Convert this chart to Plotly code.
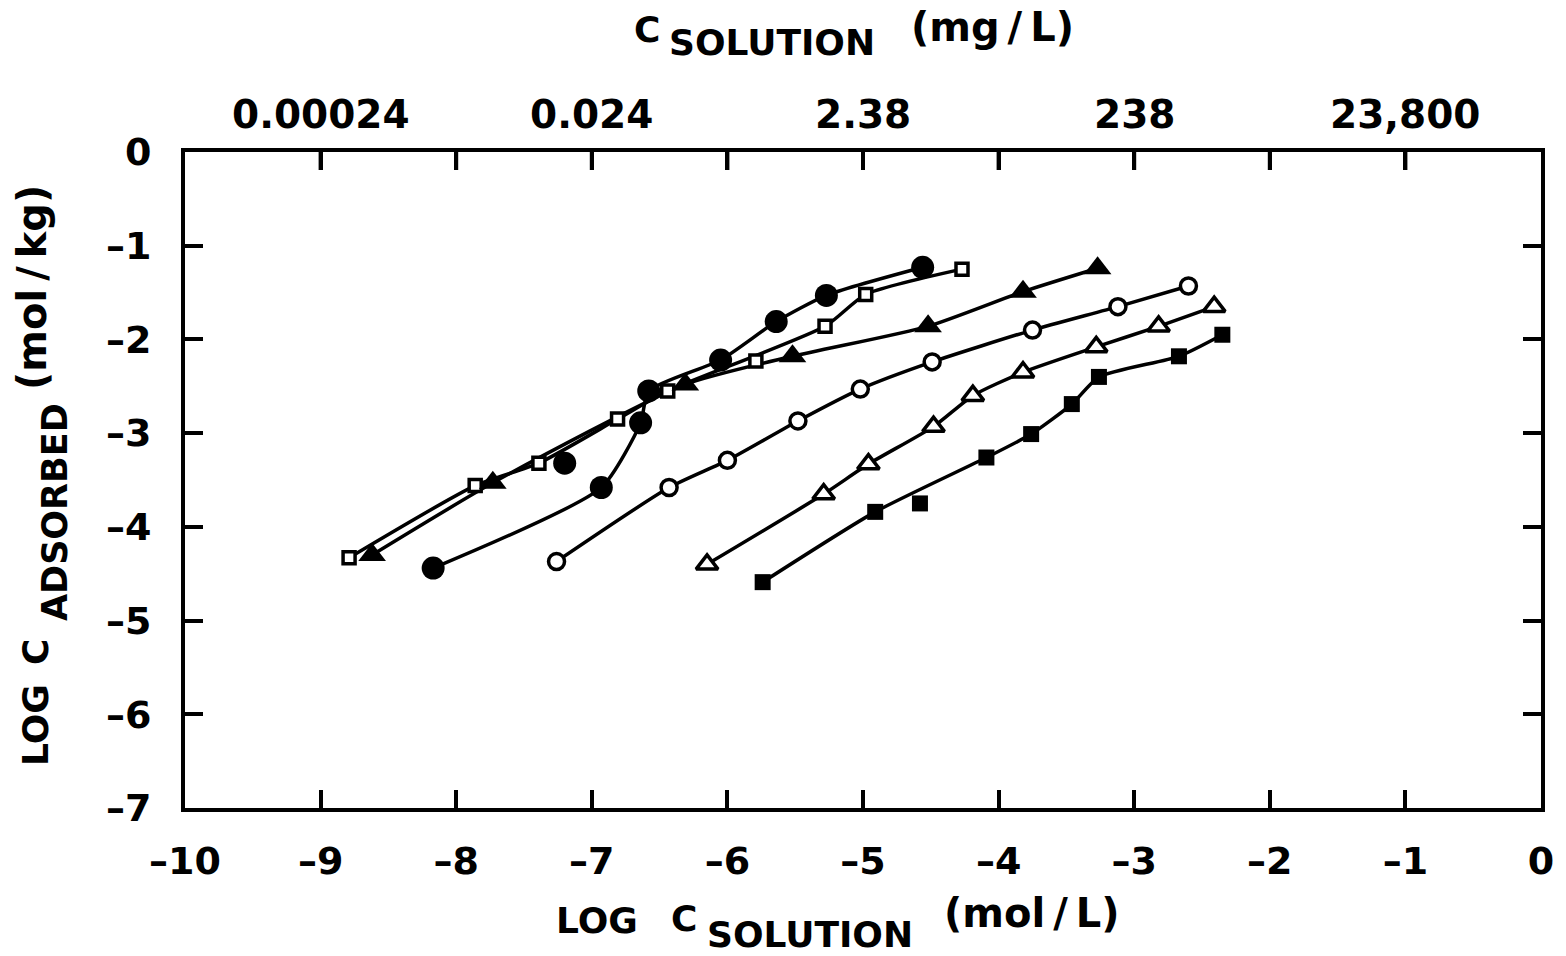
import plotly.graph_objects as go

# ---------------- data ----------------
x_tickvals = [-10, -9, -8, -7, -6, -5, -4, -3, -2, -1, 0]
x_ticktext = ["–10", "–9", "–8", "–7", "–6", "–5", "–4", "–3", "–2", "–1", "0"]
y_tickvals = [0, -1, -2, -3, -4, -5, -6, -7]
y_ticktext = ["0", "–1", "–2", "–3", "–4", "–5", "–6", "–7"]
# top scale: concentration in mg/L at the labelled log(mol/L) positions
top_tickvals = [-9, -7, -5, -3, -1]
top_ticktext = ["0.00024", "0.024", "2.38", "238", "23,800"]

# filled circles
fc_x = [-8.17, -7.20, -6.93, -6.64, -6.58, -6.05, -5.64, -5.27, -4.56]
fc_y = [-4.44, -3.32, -3.58, -2.89, -2.55, -2.22, -1.81, -1.53, -1.23]
fc_on_curve = [1, 0, 1, 1, 1, 1, 1, 1, 1]

# open squares
os_x = [-8.79, -7.86, -7.39, -6.81, -6.44, -5.79, -5.28, -4.98, -4.27]
os_y = [-4.33, -3.56, -3.32, -2.85, -2.55, -2.23, -1.86, -1.52, -1.25]
os_on_curve = [1, 1, 1, 1, 1, 0, 1, 1, 1]

# filled triangles
ft_x = [-8.62, -7.73, -6.31, -5.52, -4.52, -3.82, -3.27]
ft_y = [-4.30, -3.53, -2.48, -2.18, -1.86, -1.49, -1.24]
ft_on_curve = [1, 1, 1, 1, 1, 1, 1]

# open circles
oc_x = [-7.26, -6.43, -6.00, -5.48, -5.02, -4.49, -3.75, -3.12, -2.60]
oc_y = [-4.37, -3.58, -3.29, -2.87, -2.53, -2.24, -1.90, -1.65, -1.43]
oc_on_curve = [1, 1, 1, 1, 1, 1, 1, 1, 1]

# open triangles
ot_x = [-6.15, -5.29, -4.96, -4.48, -4.19, -3.82, -3.28, -2.82, -2.41]
ot_y = [-4.40, -3.65, -3.33, -2.93, -2.60, -2.35, -2.08, -1.86, -1.65]
ot_on_curve = [1, 1, 1, 1, 1, 1, 1, 1, 1]

# filled squares
fs_x = [-5.74, -4.91, -4.58, -4.09, -3.76, -3.46, -3.26, -2.67, -2.35]
fs_y = [-4.59, -3.84, -3.75, -3.26, -3.01, -2.69, -2.40, -2.18, -1.95]
fs_on_curve = [1, 1, 0, 1, 1, 1, 1, 1, 1]

# ---------------- styling ----------------
FONT = "DejaVu Sans"
BLACK = "black"
W, H = 1566, 956
L, R, T, B = 185, 25, 152, 148
PW, PH = W - L - R, H - T - B
X_RANGE = [-10, 0]
Y_RANGE = [-7, 0]
TICKLEN = 18

series = [
    (fc_x, fc_y, fc_on_curve, dict(symbol="circle", size=23, color=BLACK, line=dict(width=0))),
    (os_x, os_y, os_on_curve, dict(symbol="square", size=12, color="white", line=dict(width=3.5, color=BLACK))),
    (ft_x, ft_y, ft_on_curve, dict(symbol="triangle-up", size=24, color=BLACK, line=dict(width=0))),
    (oc_x, oc_y, oc_on_curve, dict(symbol="circle", size=16, color="white", line=dict(width=3.5, color=BLACK))),
    (ot_x, ot_y, ot_on_curve, dict(symbol="triangle-up", size=19, color="white", line=dict(width=3.5, color=BLACK))),
    (fs_x, fs_y, fs_on_curve, dict(symbol="square", size=16, color=BLACK, line=dict(width=0))),
]

fig = go.Figure()

# inward tick marks hanging from the top frame, one per inner x tick value
tick_len_units = TICKLEN * (Y_RANGE[1] - Y_RANGE[0]) / PH
top_tx, top_ty = [], []
for v in x_tickvals[1:-1]:
    top_tx += [v, v, None]
    top_ty += [Y_RANGE[1], Y_RANGE[1] - tick_len_units, None]
fig.add_trace(go.Scatter(x=top_tx, y=top_ty, mode="lines", showlegend=False, hoverinfo="skip",
                         connectgaps=False, cliponaxis=False,
                         line=dict(color=BLACK, width=4)))

# fitted curves
for xs, ys, mask, mk in series:
    cx = [x for x, m in zip(xs, mask) if m]
    cy = [y for y, m in zip(ys, mask) if m]
    fig.add_trace(go.Scatter(x=cx, y=cy, mode="lines", showlegend=False, hoverinfo="skip",
                             line=dict(color=BLACK, width=3.5, shape="spline", smoothing=0.6)))
# data points on top of the curves
for xs, ys, mask, mk in series:
    fig.add_trace(go.Scatter(x=xs, y=ys, mode="markers", showlegend=False, marker=mk,
                             cliponaxis=False))

tickfont = dict(family=FONT, size=38, color=BLACK, weight="bold")

fig.update_layout(
    width=W, height=H,
    margin=dict(l=L, r=R, t=T, b=B, pad=0),
    paper_bgcolor="white", plot_bgcolor="white",
    showlegend=False,
    xaxis=dict(range=X_RANGE, tickmode="array", tickvals=x_tickvals, ticktext=x_ticktext,
               ticks="inside", ticklen=TICKLEN, tickwidth=4, tickcolor=BLACK,
               showline=True, linewidth=4, linecolor=BLACK, mirror="ticks",
               showgrid=False, zeroline=False, tickfont=tickfont, ticklabelstandoff=16),
    yaxis=dict(range=Y_RANGE, tickmode="array", tickvals=y_tickvals, ticktext=y_ticktext,
               ticks="inside", ticklen=TICKLEN, tickwidth=4, tickcolor=BLACK,
               showline=True, linewidth=4, linecolor=BLACK, mirror="ticks",
               showgrid=False, zeroline=False, tickfont=tickfont, ticklabelstandoff=22),
)

# top (mg/L) scale labels, placed through the x axis scale
for v, t in zip(top_tickvals, top_ticktext):
    fig.add_annotation(text=t, x=v, xref="x", y=1, yref="paper", yanchor="middle",
                       yshift=38, showarrow=False,
                       font=dict(family=FONT, size=39, color=BLACK, weight="bold"))


def pp(px, py):
    return (px - L) / PW, (H - B - py) / PH


def ann(text, px, py, size, angle=0):
    x, y = pp(px, py)
    fig.add_annotation(text=text, x=x, y=y, xref="paper", yref="paper", showarrow=False,
                       xanchor="center", yanchor="middle", textangle=angle,
                       font=dict(family=FONT, size=size, color=BLACK, weight="bold"))


TS = "\u2009"  # thin space, as in the hand lettering
# bottom title
ann("LOG", 597, 920, 36)
ann("C", 684, 918, 36)
ann("SOLUTION", 810, 934, 36)
ann("(mol" + TS + "/" + TS + "L)", 1032, 913, 40)
# top title
ann("C", 647, 30, 36)
ann("SOLUTION", 772, 43, 36)
ann("(mg" + TS + "/" + TS + "L)", 992, 27, 40)
# y title
ann("LOG", 35, 725, 36, -90)
ann("C", 35, 652, 36, -90)
ann("ADSORBED", 55, 512, 35, -90)
ann("(mol" + TS + "/" + TS + "kg)", 32, 288, 40, -90)

fig.write_html("out.html")
